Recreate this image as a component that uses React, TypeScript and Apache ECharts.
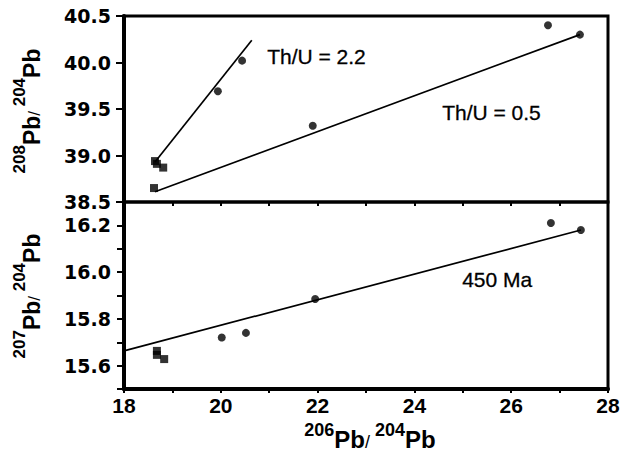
import React, { useEffect, useRef } from "react";
import * as echarts from "echarts";

// ---- data ----
const xTicks = [18, 20, 22, 24, 26, 28];
const yTicksTop = [38.5, 39.0, 39.5, 40.0, 40.5];
const yTicksBottom = [15.6, 15.8, 16.0, 16.2];

// 208Pb/204Pb vs 206Pb/204Pb
const topSquares = [
  [18.64, 38.94],
  [18.68, 38.91],
  [18.81, 38.87],
  [18.62, 38.65],
];
const topCircles = [
  [19.94, 39.69],
  [20.44, 40.02],
  [21.9, 39.32],
  [26.76, 40.4],
  [27.42, 40.3],
];
const lineThU22 = [
  [18.64, 38.93],
  [20.64, 40.24],
];
const lineThU05 = [
  [18.64, 38.61],
  [27.42, 40.3],
];

// 207Pb/204Pb vs 206Pb/204Pb
const bottomSquares = [
  [18.68, 15.663],
  [18.68, 15.646],
  [18.83, 15.628],
];
const bottomCircles = [
  [20.02, 15.72],
  [20.52, 15.74],
  [21.95, 15.885],
  [26.82, 16.21],
  [27.44, 16.18],
];
const line450 = [
  [18.0, 15.663],
  [27.44, 16.18],
];

const labelTh22 = "Th/U = 2.2";
const labelTh05 = "Th/U = 0.5";
const label450 = "450 Ma";

const FONT = "Liberation Sans, Arial, Helvetica, sans-serif";
const NUMFONT = "DejaVu Sans, Liberation Sans, sans-serif";

function near(v: number, list: number[]) {
  return list.some((t) => Math.abs(t - v) < 1e-6);
}

function titleRich(main: number, sup: number, lh: number) {
  return {
    s: { fontSize: sup, fontWeight: "bold", fontFamily: FONT, verticalAlign: "top", fill: "#000" },
    m: { fontSize: main, fontWeight: "bold", fontFamily: FONT, verticalAlign: "bottom", lineHeight: lh, fill: "#000" },
    sl: { fontSize: sup, fontFamily: FONT, verticalAlign: "bottom", lineHeight: lh, fill: "#000" },
  };
}

export default function App() {
  const ref = useRef<HTMLDivElement>(null);

  useEffect(() => {
    if (!ref.current) return;
    const chart = echarts.init(ref.current, undefined, { renderer: "svg" });

    const grids = [
      { left: 124, top: 16, width: 484, height: 186 },
      { left: 124, top: 202, width: 484, height: 187 },
    ].map((g) => ({
      ...g,
      show: true,
      borderColor: "#000",
      borderWidth: 3,
      backgroundColor: "transparent",
    }));

    const yLabel = {
      margin: 13,
      fontFamily: NUMFONT,
      fontWeight: "bold",
      fontSize: 19,
      color: "#000",
      padding: [5, 0, 0, 0],
    };

    const option: any = {
      animation: false,
      backgroundColor: "#fff",
      grid: grids,
      xAxis: [
        {
          type: "value",
          gridIndex: 0,
          min: 18,
          max: 28,
          interval: 1,
          axisLine: { show: false },
          axisTick: { show: false },
          axisLabel: { show: false },
          splitLine: { show: false },
        },
        {
          type: "value",
          gridIndex: 1,
          min: 18,
          max: 28,
          interval: 1,
          axisLine: { show: true, onZero: false, lineStyle: { color: "#000", width: 4 } },
          axisTick: { show: true, inside: false, length: 4, lineStyle: { color: "#000", width: 2 } },
          axisLabel: {
            show: true,
            margin: 6,
            fontFamily: FONT,
            fontWeight: "bold",
            fontSize: 21,
            color: "#000",
            formatter: (v: number) => (near(v, xTicks) ? String(v) : ""),
          },
          splitLine: { show: false },
        },
        {
          type: "value",
          gridIndex: 1,
          position: "top",
          min: 18,
          max: 28,
          interval: 1,
          axisLine: { show: false },
          axisTick: { show: true, inside: true, length: 4, lineStyle: { color: "#000", width: 2 } },
          axisLabel: { show: false },
          splitLine: { show: false },
        },
      ],
      yAxis: [
        {
          type: "value",
          gridIndex: 0,
          min: 38.5,
          max: 40.5,
          interval: 0.5,
          axisLine: { show: true, onZero: false, lineStyle: { color: "#000", width: 4 } },
          axisTick: { show: true, inside: false, length: 8, lineStyle: { color: "#000", width: 2 } },
          axisLabel: {
            ...yLabel,
            formatter: (v: number) => (near(v, yTicksTop) ? v.toFixed(1) : ""),
          },
          splitLine: { show: false },
        },
        {
          type: "value",
          gridIndex: 1,
          min: 15.5,
          max: 16.3,
          interval: 0.1,
          axisLine: { show: true, onZero: false, lineStyle: { color: "#000", width: 4 } },
          axisTick: { show: true, inside: false, length: 7, lineStyle: { color: "#000", width: 2 } },
          axisLabel: {
            ...yLabel,
            formatter: (v: number) => (near(v, yTicksBottom) ? v.toFixed(1) : ""),
          },
          splitLine: { show: false },
        },
      ],
      series: [
        {
          type: "line",
          xAxisIndex: 0,
          yAxisIndex: 0,
          data: lineThU22,
          showSymbol: false,
          lineStyle: { color: "#000", width: 1.7 },
          z: 3,
        },
        {
          type: "line",
          xAxisIndex: 0,
          yAxisIndex: 0,
          data: lineThU05,
          showSymbol: false,
          lineStyle: { color: "#000", width: 1.7 },
          z: 3,
        },
        {
          type: "scatter",
          xAxisIndex: 0,
          yAxisIndex: 0,
          data: topSquares,
          symbol: "rect",
          symbolSize: 8,
          itemStyle: { color: "#000" },
          z: 4,
        },
        {
          type: "scatter",
          xAxisIndex: 0,
          yAxisIndex: 0,
          data: topCircles,
          symbol: "circle",
          symbolSize: 8,
          itemStyle: { color: "#000" },
          z: 4,
        },
        {
          type: "line",
          xAxisIndex: 1,
          yAxisIndex: 1,
          data: line450,
          showSymbol: false,
          lineStyle: { color: "#000", width: 1.7 },
          z: 3,
        },
        {
          type: "scatter",
          xAxisIndex: 1,
          yAxisIndex: 1,
          data: bottomSquares,
          symbol: "rect",
          symbolSize: 8,
          itemStyle: { color: "#000" },
          z: 4,
        },
        {
          type: "scatter",
          xAxisIndex: 1,
          yAxisIndex: 1,
          data: bottomCircles,
          symbol: "circle",
          symbolSize: 8,
          itemStyle: { color: "#000" },
          z: 4,
        },
      ],
      graphic: [
        {
          type: "text",
          left: 267,
          top: 46,
          style: { text: labelTh22, fontFamily: FONT, fontSize: 21, fill: "#000", stroke: "#000", lineWidth: 0.3 },
        },
        {
          type: "text",
          left: 442,
          top: 102,
          style: { text: labelTh05, fontFamily: FONT, fontSize: 21, fill: "#000", stroke: "#000", lineWidth: 0.3 },
        },
        {
          type: "text",
          left: 462,
          top: 269,
          style: { text: label450, fontFamily: FONT, fontSize: 21, fill: "#000", stroke: "#000", lineWidth: 0.3 },
        },
        {
          type: "text",
          x: 27,
          y: 111,
          rotation: Math.PI / 2,
          style: {
            text: "{s|208}{m|Pb}{sl|/ }{s|204}{m|Pb}",
            rich: titleRich(23, 17, 32),
            align: "center",
            verticalAlign: "middle",
          },
        },
        {
          type: "text",
          x: 27,
          y: 296,
          rotation: Math.PI / 2,
          style: {
            text: "{s|207}{m|Pb}{sl|/ }{s|204}{m|Pb}",
            rich: titleRich(23, 17, 32),
            align: "center",
            verticalAlign: "middle",
          },
        },
        {
          type: "text",
          x: 370,
          y: 436,
          style: {
            text: "{s|206}{m|Pb}{sl|/ }{s|204}{m|Pb}",
            rich: titleRich(24, 18, 30),
            align: "center",
            verticalAlign: "middle",
          },
        },
      ],
    };

    chart.setOption(option);
    return () => chart.dispose();
  }, []);

  return (
    <div
      ref={ref}
      style={{ position: "fixed", left: 0, top: 0, width: 628, height: 453, background: "#fff" }}
    />
  );
}
